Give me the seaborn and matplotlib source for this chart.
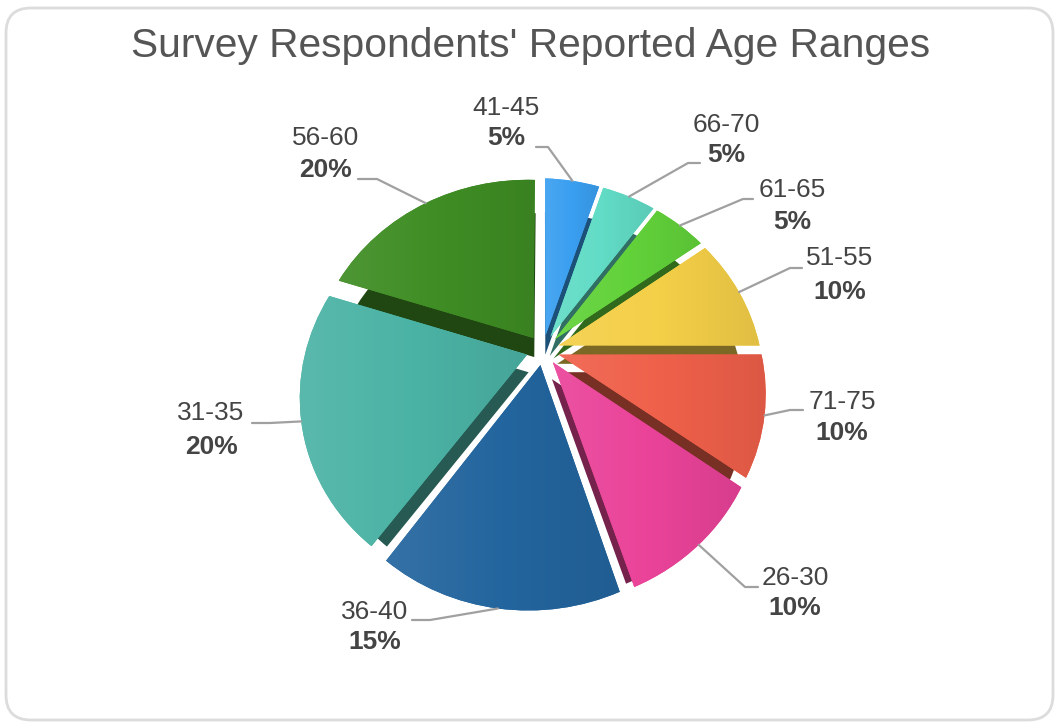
import numpy as np
import matplotlib
matplotlib.use("Agg")
import matplotlib.pyplot as plt
import matplotlib.colors as mcolors
from matplotlib import transforms as mtransforms
from matplotlib.patches import FancyBboxPatch, Wedge
import seaborn as sns

# Age ranges, clockwise from the top, and their share of respondents (%)
ages = ["41-45", "66-70", "61-65", "51-55", "71-75", "26-30", "36-40", "31-35", "56-60"]
shares = [5, 5, 5, 10, 10, 10, 15, 20, 20]
slice_colors = ["#3a9ff0", "#62dcc6", "#62d23a", "#f4cf48", "#ef604a",
                "#ea4399", "#23659e", "#4bb3a5", "#3f8d24"]
title = "Survey Respondents' Reported Age Ranges"

# Label layout in pixels from the top-left: text centre x, name y, percent y,
# connector start and elbow
label_text = [(506, 108, 138), (726, 125, 155), (792, 190, 222), (840, 258, 292),
              (842, 402, 433), (795, 578, 608), (375, 612, 642), (211, 413, 447),
              (326, 138, 170)]
label_start = [(536, 147), (700, 163), (753, 199), (802, 268), (803, 410),
               (758, 587), (412, 620), (252, 423), (358, 179)]
label_elbow = [(548, 147), (688, 163), (743, 199), (790, 268), (790, 410),
               (745, 587), (430, 620), (270, 423), (377, 179)]

W, H = 1055, 723
sns.set_theme(style="white")
plt.rcParams["font.family"] = ["Liberation Sans", "DejaVu Sans"]

fig = plt.figure(figsize=(W / 100, H / 100), dpi=100)
fig.patch.set_facecolor("white")
ax = fig.add_axes([0, 0, 1, 1])

CX, CY, R = 543, H - 350, 192
EXPLODE = 15


class Tilt(mtransforms.Transform):
    """Simple perspective: the far (top) side of the pie recedes."""
    input_dims = output_dims = 2
    is_separable = False

    def __init__(self, cx, cy, r, kx, ky, stretch):
        super().__init__()
        self.cx, self.cy, self.r = cx, cy, r
        self.kx, self.ky, self.stretch = kx, ky, stretch

    def transform_non_affine(self, xy):
        xy = np.asarray(xy, dtype=float)
        u = (xy[:, 0] - self.cx) / self.r
        v = (xy[:, 1] - self.cy) / self.r
        w = 1 + self.kx * u + self.ky * v
        return np.column_stack([self.cx + self.stretch * self.r * u / w,
                                self.cy + self.r * v / w])


tilt = Tilt(CX, CY, R, 0.04, 0.19, 1.1)
VY = CY - 200
sink = mtransforms.Affine2D().translate(-CX, -VY).scale(0.91).translate(CX, VY)

wedges, _ = ax.pie(shares, colors=slice_colors, startangle=90, counterclock=False,
                   radius=R, center=(CX, CY), explode=[EXPLODE] * len(shares),
                   wedgeprops=dict(linewidth=0), frame=True)


def shade(c, f):
    rgb = np.array(mcolors.to_rgb(c))
    if f >= 0:
        return tuple(rgb + (1 - rgb) * f)
    return tuple(rgb * (1 + f))


# slab sides first, so every top face sits above them
for wdg, col in zip(wedges, slice_colors):
    side = Wedge(wdg.center, wdg.r, wdg.theta1, wdg.theta2,
                 facecolor=shade(col, -0.5), edgecolor="none", zorder=1)
    side.set_transform(tilt + sink + ax.transData)
    ax.add_patch(side)

ramp = np.linspace(0, 1, 128)[None, :]
for wdg, col in zip(wedges, slice_colors):
    wdg.set_transform(tilt + ax.transData)
    wdg.set_zorder(2)
    verts = tilt.transform(wdg.get_path().vertices)
    x0, y0 = verts.min(axis=0)
    x1, y1 = verts.max(axis=0)
    cmap = mcolors.LinearSegmentedColormap.from_list(
        "g", [shade(col, 0.08), col, shade(col, -0.08)])
    im = ax.imshow(np.repeat(ramp, 2, axis=0), cmap=cmap, extent=(x0, x1, y0, y1),
                   aspect="auto", zorder=2.5, interpolation="bilinear")
    im.set_clip_path(wdg)

# labels with leader lines to the middle of each slice's outer edge
for wdg, name, pct, (tx, ny, py), (sx, sy), (ex, ey) in zip(
        wedges, ages, shares, label_text, label_start, label_elbow):
    mid = np.deg2rad((wdg.theta1 + wdg.theta2) / 2)
    px, pyy = tilt.transform(np.array([[wdg.center[0] + wdg.r * np.cos(mid),
                                        wdg.center[1] + wdg.r * np.sin(mid)]]))[0]
    ax.plot([sx, ex, px], [H - sy, H - ey, pyy], color="#a0a0a0", lw=1.6,
            zorder=3, solid_capstyle="round")
    ax.text(tx, H - ny, name, ha="center", va="center", fontsize=19, color="#444444")
    ax.text(tx, H - py, f"{pct}%", ha="center", va="center", fontsize=19,
            color="#444444", fontweight="bold")

ax.text(531, H - 46, title, ha="center", va="center", fontsize=29.3, color="#555555")

frame = FancyBboxPatch((6, H - 720), 1047, 712,
                       boxstyle="round,pad=0,rounding_size=25",
                       fill=False, edgecolor="#dcdcdc", lw=2, zorder=0)
ax.add_patch(frame)

ax.set_xlim(0, W)
ax.set_ylim(0, H)
ax.set_aspect("auto")
ax.axis("off")

fig.savefig("out.png", dpi=100, facecolor="white")
